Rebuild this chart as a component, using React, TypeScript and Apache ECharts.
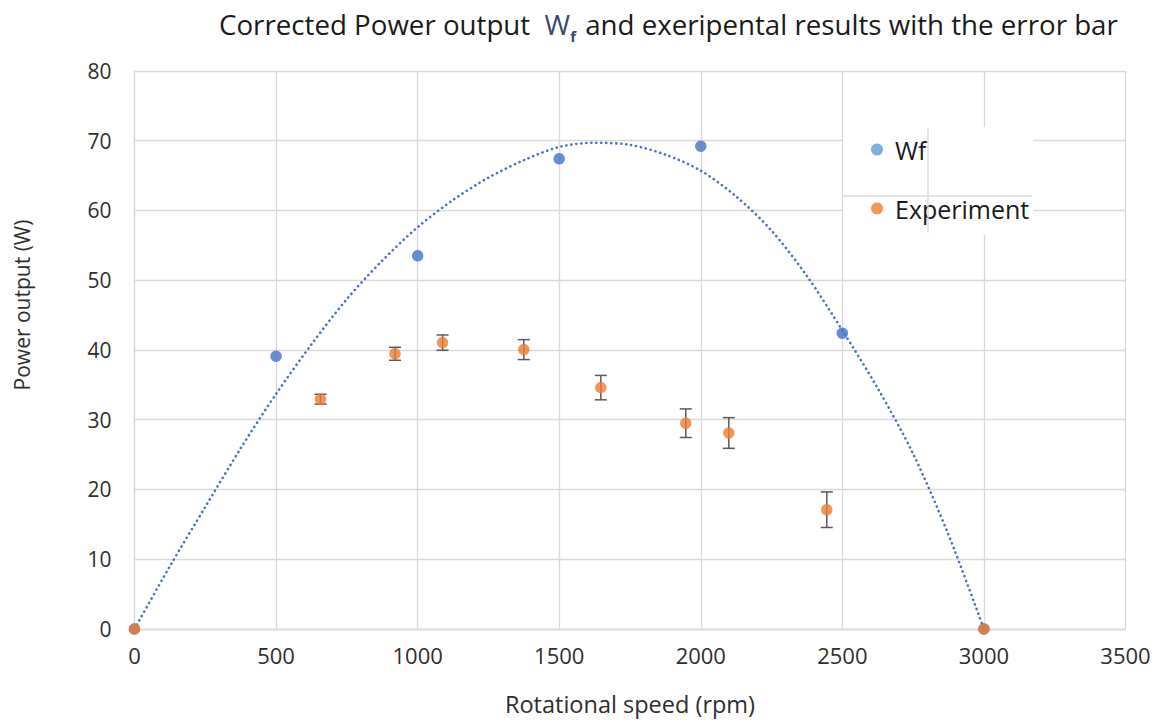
import React, { useEffect, useRef } from "react";
import * as echarts from "echarts";

const wfRpm = [0, 500, 1000, 1500, 2000, 2500, 3000];
const wfPower = [0, 39.1, 53.5, 67.4, 69.2, 42.4, 0];

const expRpm = [0, 657, 920, 1088, 1375, 1647, 1947, 2099, 2445, 3000];
const expPower = [0, 32.95, 39.45, 41.05, 40.05, 34.6, 29.5, 28.1, 17.1, 0];
const expError = [0, 0.7, 0.93, 1.1, 1.43, 1.75, 2.05, 2.2, 2.55, 0];

const trendRpm = [
  0, 125, 250, 375, 500, 625, 750, 875, 1000, 1125, 1250, 1375, 1500, 1625, 1750,
  1875, 2000, 2125, 2250, 2375, 2500, 2625, 2750, 2875, 3000,
];
const trendPower = [
  0, 9.0, 17.5, 25.9, 33.7, 40.8, 47.3, 52.8, 57.6, 61.5, 64.7, 67.2, 69.1, 69.7, 69.4,
  68.0, 65.7, 62.0, 57.1, 50.6, 42.8, 34.5, 25.1, 13.5, 0,
];

const xTicks = [0, 500, 1000, 1500, 2000, 2500, 3000, 3500];
const yTicks = [0, 10, 20, 30, 40, 50, 60, 70, 80];

const FONT = "'Open Sans', 'Noto Sans', sans-serif";
const GRID = "#d9d9d9";
const TEXT = "#2e2e2e";

export default function App() {
  const ref = useRef<HTMLDivElement>(null);

  useEffect(() => {
    if (!ref.current) return;
    const chart = echarts.init(ref.current, undefined, { renderer: "svg" });

    const wfData = wfRpm.map((r, i) => [r, wfPower[i]]);
    const expData = expRpm.map((r, i) => [r, expPower[i]]);
    const errData = expRpm
      .map((r, i) => [r, expPower[i], expError[i]])
      .filter((d) => d[2] > 0);
    const trendData = trendRpm.map((r, i) => [r, trendPower[i]]);

    chart.setOption({
      animation: false,
      backgroundColor: "#ffffff",
      textStyle: { fontFamily: FONT },
      title: {
        left: 214,
        top: 0,
        text: "{a|Corrected Power output  }{w|W}{s|f}{a| and exeripental results with the error bar}",
        textStyle: {
          fontWeight: "normal",
          rich: {
            a: { fontFamily: FONT, fontSize: 27.7, fontWeight: "normal", color: "#1a1a1a", lineHeight: 38 },
            w: { fontFamily: FONT, fontSize: 27.7, fontWeight: "normal", color: "#3b4a6b", lineHeight: 38 },
            s: {
              fontFamily: FONT,
              fontSize: 15,
              fontWeight: "bold",
              color: "#3b4a6b",
              lineHeight: 38,
              verticalAlign: "bottom",
              padding: [0, 2, 0, 0],
            },
          },
        },
      },
      grid: { left: 134.5, right: 33.5, top: 70.9, bottom: 93, containLabel: false },
      legend: {
        orient: "vertical",
        left: 843,
        top: 127,
        padding: [10, 4, 14, 28],
        itemGap: 34,
        itemWidth: 12,
        itemHeight: 12,
        backgroundColor: "#ffffff",
        icon: "circle",
        textStyle: { fontFamily: FONT, fontSize: 25, color: "#1a1a1a", padding: [0, 0, 0, 7] },
        data: [
          { name: "Wf", itemStyle: { color: "#5B9BD5" } },
          { name: "Experiment", itemStyle: { color: "#ED7D31" } },
        ],
        z: 20,
      },
      xAxis: {
        type: "value",
        min: xTicks[0],
        max: xTicks[xTicks.length - 1],
        interval: 500,
        name: "Rotational speed (rpm)",
        nameLocation: "middle",
        nameGap: 63,
        nameTextStyle: { fontFamily: FONT, fontSize: 23.5, color: TEXT },
        axisLine: { show: true, lineStyle: { color: GRID, width: 1.3 } },
        axisTick: { show: false },
        axisLabel: {
          fontFamily: FONT,
          fontSize: 22,
          color: TEXT,
          margin: 15,
          formatter: (v: number) => String(v),
        },
        splitLine: { show: true, lineStyle: { color: GRID, width: 1.3 } },
      },
      yAxis: {
        type: "value",
        min: yTicks[0],
        max: yTicks[yTicks.length - 1],
        interval: 10,
        axisLine: { show: true, lineStyle: { color: GRID, width: 1.3 } },
        axisTick: { show: false },
        axisLabel: {
          fontFamily: FONT,
          fontSize: 21,
          color: TEXT,
          margin: 23,
          formatter: (v: number) => String(v),
        },
        splitLine: { show: true, lineStyle: { color: GRID, width: 1.3 } },
      },
      graphic: [
        {
          type: "text",
          x: 22,
          y: 305,
          rotation: Math.PI / 2,
          style: {
            text: "Power output (W)",
            fontFamily: FONT,
            fontSize: 21,
            fill: TEXT,
            align: "center",
            verticalAlign: "middle",
          },
        },
        {
          type: "line",
          z: 100,
          shape: { x1: 928, y1: 128, x2: 928, y2: 233 },
          style: { stroke: GRID, lineWidth: 1.3 },
        },
        {
          type: "line",
          z: 100,
          shape: { x1: 843, y1: 196, x2: 1032, y2: 196 },
          style: { stroke: GRID, lineWidth: 1.3 },
        },
      ],
      series: [
        {
          name: "Trend",
          type: "line",
          data: trendData,
          smooth: 0.3,
          showSymbol: false,
          symbol: "none",
          lineStyle: { color: "#4472C4", width: 2.6, type: [0.1, 4.9], cap: "round" },
          z: 2,
          silent: true,
        },
        {
          name: "Wf",
          type: "scatter",
          data: wfData,
          symbol: "circle",
          symbolSize: 11.5,
          itemStyle: { color: "#4472C4" },
          z: 3,
        },
        {
          name: "Error",
          type: "custom",
          data: errData,
          encode: { x: 0, y: 1 },
          z: 4,
          renderItem: (params: any, api: any) => {
            const x = api.value(0);
            const y = api.value(1);
            const e = api.value(2);
            const top = api.coord([x, y + e]);
            const bot = api.coord([x, y - e]);
            const hw = 6;
            const style = { stroke: "#595959", lineWidth: 1.5 };
            return {
              type: "group",
              children: [
                { type: "line", shape: { x1: top[0], y1: top[1], x2: bot[0], y2: bot[1] }, style },
                { type: "line", shape: { x1: top[0] - hw, y1: top[1], x2: top[0] + hw, y2: top[1] }, style },
                { type: "line", shape: { x1: bot[0] - hw, y1: bot[1], x2: bot[0] + hw, y2: bot[1] }, style },
              ],
            };
          },
        },
        {
          name: "Experiment",
          type: "scatter",
          data: expData,
          symbol: "circle",
          symbolSize: 11.5,
          itemStyle: { color: "#ED7D31" },
          z: 5,
        },
      ],
    });

    return () => chart.dispose();
  }, []);

  return <div ref={ref} style={{ width: 1159, height: 722, position: "absolute", left: 0, top: 0 }} />;
}
